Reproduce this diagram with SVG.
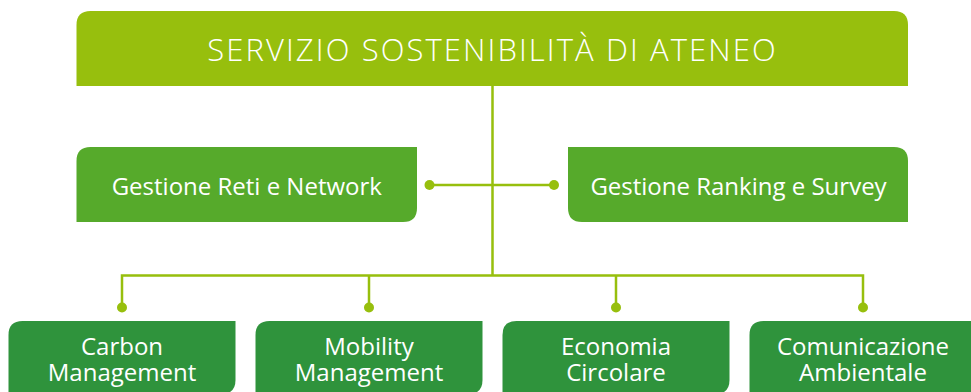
<svg xmlns="http://www.w3.org/2000/svg" width="971" height="392" viewBox="0 0 971 392">
<style>
.t{font-family:"Open Sans","Noto Sans","Liberation Sans",sans-serif;fill:#ffffff;text-anchor:middle}
.title{font-size:31px;letter-spacing:2.1px;font-weight:300}
.mid{font-size:24px}
.bot{font-size:24px}
.c{fill:none;stroke:#97bf0d;stroke-width:2.5}
.d{fill:#97bf0d}
</style>
<rect width="971" height="392" fill="#ffffff"/>
<g id="connectors">
<path class="c" d="M492.5 86 V275.5 M122 307 V275.5 H863 V307 M369 275.5 V307 M616 275.5 V307 M429 185 H554"/>
<circle class="d" cx="429.5" cy="185" r="5"/>
<circle class="d" cx="554" cy="185" r="5"/>
<circle class="d" cx="122" cy="307.5" r="5"/>
<circle class="d" cx="369" cy="307.5" r="5"/>
<circle class="d" cx="616" cy="307.5" r="5"/>
<circle class="d" cx="863" cy="307.5" r="5"/>
</g>
<g id="servizio">
<path d="M76.5 86 V25 Q76.5 11 90.5 11 H894 Q908 11 908 25 V86 Z" fill="#97bf0d"/>
<text class="t title" x="492.5" y="61">SERVIZIO SOSTENIBILITÀ DI ATENEO</text>
</g>
<g id="reti">
<path d="M76.5 222 V161 Q76.5 147 90.5 147 H417 V208 Q417 222 403 222 Z" fill="#56aa2b"/>
<text class="t mid" x="246.8" y="195">Gestione Reti e Network</text>
</g>
<g id="ranking">
<path d="M568 147 H894 Q908 147 908 161 V222 H582 Q568 222 568 208 Z" fill="#56aa2b"/>
<text class="t mid" x="738.5" y="195">Gestione Ranking e Survey</text>
</g>
<g id="carbon">
<path d="M8.5 394 V335 Q8.5 321 22.5 321 H235.5 V380 Q235.5 394 221.5 394 Z" fill="#2f933c"/>
<text class="t bot" x="122" y="355">Carbon</text>
<text class="t bot" x="122" y="381">Management</text>
</g>
<g id="mobility">
<path d="M255.5 394 V335 Q255.5 321 269.5 321 H482.5 V380 Q482.5 394 468.5 394 Z" fill="#2f933c"/>
<text class="t bot" x="369" y="355">Mobility</text>
<text class="t bot" x="369" y="381">Management</text>
</g>
<g id="economia">
<path d="M502.5 394 V335 Q502.5 321 516.5 321 H729.5 V380 Q729.5 394 715.5 394 Z" fill="#2f933c"/>
<text class="t bot" x="616" y="355">Economia</text>
<text class="t bot" x="616" y="381">Circolare</text>
</g>
<g id="comunicazione">
<path d="M749.5 394 V335 Q749.5 321 763.5 321 H976.5 V380 Q976.5 394 962.5 394 Z" fill="#2f933c"/>
<text class="t bot" x="863" y="355">Comunicazione</text>
<text class="t bot" x="863" y="381">Ambientale</text>
</g>
</svg>
